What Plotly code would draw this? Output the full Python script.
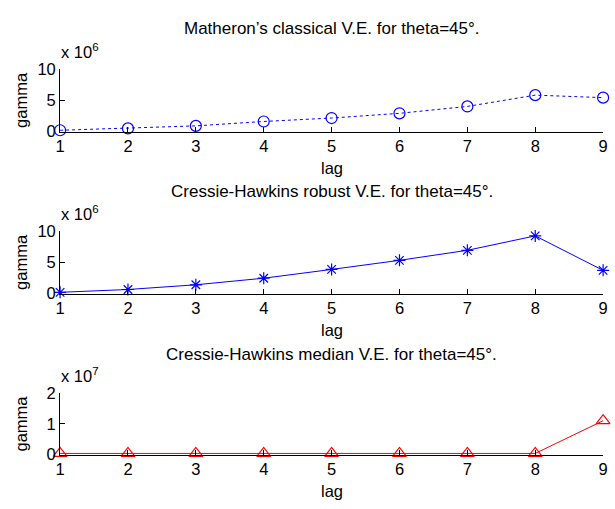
import plotly.graph_objects as go

lag = [1, 2, 3, 4, 5, 6, 7, 8, 9]
gamma_classical = [0.2e6, 0.5e6, 0.9e6, 1.6e6, 2.15e6, 2.9e6, 4.0e6, 5.8e6, 5.4e6]
gamma_robust = [0.2e6, 0.65e6, 1.4e6, 2.45e6, 3.85e6, 5.3e6, 6.9e6, 9.2e6, 3.7e6]
gamma_median = [0.4e6, 0.4e6, 0.4e6, 0.4e6, 0.4e6, 0.4e6, 0.4e6, 0.4e6, 1.1e7]

titles = ["Matheron\u2019s classical V.E. for theta=45\u00b0.",
          "Cressie-Hawkins robust V.E. for theta=45\u00b0.",
          "Cressie-Hawkins median V.E. for theta=45\u00b0."]
ytickvals = [[0, 5e6, 10e6], [0, 5e6, 10e6], [0, 1e7, 2e7]]
yticktext = [["0", "5", "10"], ["0", "5", "10"], ["0", "1", "2"]]
yranges = [[0, 10e6], [0, 10e6], [0, 2e7]]
exponents = ["6", "6", "7"]

W, H = 615, 509
x0, x1 = 56, 608
panels = [(62, 127, 20), (230, 295, 189), (398, 462, 358)]

FONT = "Liberation Sans, Arial, sans-serif"
FS = 16.5

fig = go.Figure()
series = [
    (gamma_classical, "#0000FF", "dot", "circle-open", 11),
    (gamma_robust, "#0000FF", "solid", "asterisk-open", 10),
    (gamma_median, "#FF0000", "solid", "triangle-up-open", 12),
]
for i, (vals, col, dash, sym, msz) in enumerate(series):
    n = "" if i == 0 else str(i + 1)
    fig.add_trace(go.Scatter(
        x=lag, y=vals, mode="lines+markers",
        line=dict(color=col, width=1, dash=dash),
        marker=dict(symbol=sym, size=msz, color=col, line=dict(color=col, width=1.2)),
        xaxis="x" + n, yaxis="y" + n, cliponaxis=False, showlegend=False,
    ))

layout = dict(
    width=W, height=H, margin=dict(l=0, r=0, t=0, b=0),
    paper_bgcolor="white", plot_bgcolor="white",
    font=dict(family=FONT, size=FS, color="black"),
    annotations=[],
)
for i, (top, bot, ty) in enumerate(panels):
    n = "" if i == 0 else str(i + 1)
    layout["xaxis" + n] = dict(
        domain=[x0 / W, x1 / W], range=[1, 9], anchor="y" + n,
        tickvals=lag, ticks="inside", ticklen=5, tickcolor="black",
        showline=True, linecolor="black", linewidth=1, showgrid=False, zeroline=False,
        tickfont=dict(size=FS, family=FONT), fixedrange=True,
    )
    layout["yaxis" + n] = dict(
        domain=[1 - bot / H, 1 - top / H], range=yranges[i], anchor="x" + n,
        tickvals=ytickvals[i], ticktext=yticktext[i], ticks="inside", ticklen=5,
        tickcolor="black", showline=True, linecolor="black", linewidth=1,
        showgrid=False, zeroline=False, tickfont=dict(size=FS, family=FONT),
    )
    layout["annotations"] += [
        dict(text=titles[i], x=(x0 + x1) / 2 / W, y=1 - ty / H, xref="paper", yref="paper",
             xanchor="center", yanchor="middle", showarrow=False, font=dict(size=17)),
        dict(text="x 10<sup>" + exponents[i] + "</sup>", x=(x0 - 1) / W, y=1 - (top - 6) / H,
             xref="paper", yref="paper", xanchor="left", yanchor="bottom", showarrow=False,
             font=dict(size=FS)),
        dict(text="gamma", x=16 / W, y=1 - (top + bot) / 2 / H, xref="paper", yref="paper",
             xanchor="center", yanchor="middle", textangle=-90, showarrow=False,
             font=dict(size=FS)),
        dict(text="lag", x=(x0 + x1) / 2 / W, y=1 - (bot + 38) / H, xref="paper", yref="paper",
             xanchor="center", yanchor="middle", showarrow=False, font=dict(size=FS)),
    ]
fig.update_layout(**layout)
fig.write_html("out.html")
